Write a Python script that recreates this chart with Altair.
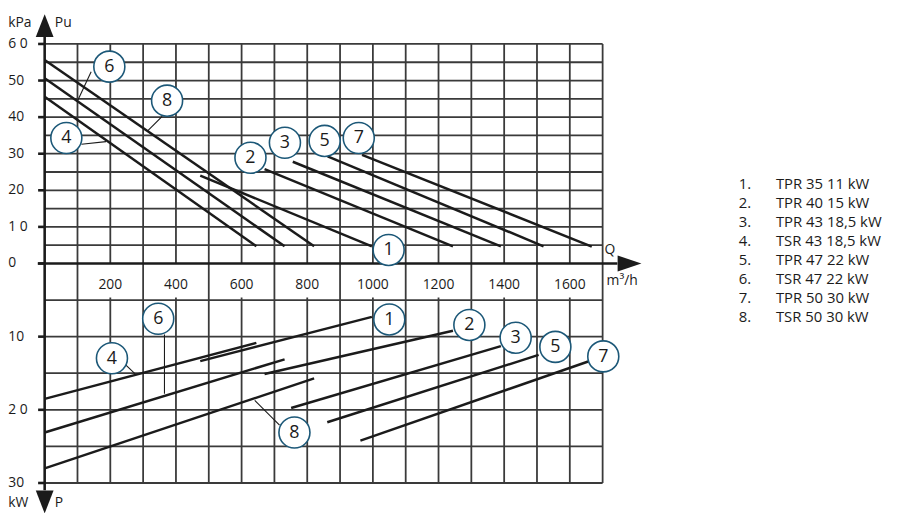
import altair as alt
import pandas as pd

# ---------------- data ----------------
pump_ids = ["1", "2", "3", "4", "5", "6", "7", "8"]
pump_names = ["TPR 35 11 kW", "TPR 40 15 kW", "TPR 43 18,5 kW", "TSR 43 18,5 kW",
              "TPR 47 22 kW", "TSR 47 22 kW", "TPR 50 30 kW", "TSR 50 30 kW"]

# pressure (Pu, kPa) vs flow (Q, m3/h): straight segments
head_q_start = [474, 670, 756, 0, 862, 0, 967, 0]
head_q_end = [997, 1244, 1390, 645, 1520, 731, 1667, 821]
head_kpa_start = [24.0, 25.8, 27.8, 45.6, 29.3, 50.6, 29.7, 55.6]
head_kpa_end = [4.7, 4.7, 4.7, 4.7, 4.7, 4.7, 4.6, 4.7]

# power (P, kW) vs flow
power_q_start = [474, 670, 751, 0, 861, 0, 962, 0]
power_q_end = [997, 1244, 1390, 645, 1505, 731, 1656, 821]
power_kw_start = [13.35, 15.1, 19.75, 18.5, 21.7, 23.1, 24.2, 28.0]
power_kw_end = [7.3, 9.2, 11.3, 10.85, 12.5, 13.1, 13.4, 15.7]

# numbered circles
head_tag_q = [1048, 627, 732, 66, 853, 197, 957, 373]
head_tag_kpa = [3.7, 28.9, 33.0, 34.3, 33.5, 53.8, 34.3, 44.5]
power_tag_q = [1050, 1294, 1435, 205, 1556, 346, 1702, 761]
power_tag_kw = [7.65, 8.4, 10.15, 12.95, 11.4, 7.55, 12.7, 23.1]

# leader lines from circles to curves
head_leader_q = [141.6, 358, 112]
head_leader_q2 = [101.4, 313, 187]
head_leader_kpa = [52.4, 40.2, 32.6]
head_leader_kpa2 = [44.7, 36.2, 33.3]
power_leader_q = [247.6, 365, 640]
power_leader_q2 = [275.7, 365, 715.6]
power_leader_kw = [13.9, 9.7, 18.7]
power_leader_kw2 = [15.1, 17.8, 22.1]

# axes
q_tick_values = [200, 400, 600, 800, 1000, 1200, 1400, 1600]
q_tick_labels = ["200", "400", "600", "800", "1000", "1200", "1400", "1600"]
kpa_tick_values = [60, 50, 40, 30, 20, 10, 0]
kpa_tick_labels = ["6 0", "50", "40", "30", "20", "1 0", "0"]
kw_tick_values = [10, 20, 30]
kw_tick_labels = ["10", "2 0", "30"]
q_grid = list(range(0, 1800, 100))
kpa_grid = list(range(5, 65, 5))
kw_grid = list(range(5, 35, 5))

# ---------------- layout helpers ----------------
KW = -2.0          # power axis runs downward: 30 kW <-> -60 on the shared axis
FONT = "Open Sans"
INK = "#1b1b1b"
GRID = "#3a3a3a"
BLUE = "#1c5878"

xs = alt.Scale(domain=[0, 1700], nice=False, zero=False)
ys = alt.Scale(domain=[-60, 60], nice=False, zero=False)


def X(f):
    return alt.X(f, type="quantitative", scale=xs, axis=None, title=None)


def Y(f):
    return alt.Y(f, type="quantitative", scale=ys, axis=None, title=None)


def rules(df, color, width):
    return alt.Chart(df).mark_rule(color=color, strokeWidth=width, clip=False).encode(
        x=X("q"), x2=alt.X2("q2"), y=Y("u"), y2=alt.Y2("u2"))


# grid
h_rows = [dict(q=0, q2=1700, u=v, u2=v) for v in kpa_grid]
h_rows += [dict(q=0, q2=1700, u=KW * v, u2=KW * v) for v in kw_grid]
v_rows = []
for q in q_grid[1:]:
    v_rows.append(dict(q=q, q2=q, u=0, u2=60))
    v_rows.append(dict(q=q, q2=q, u=-60, u2=(-9.3 if q in q_tick_values else 0)))
grid = rules(pd.DataFrame(h_rows + v_rows), GRID, 1.8)

# axes lines + ticks
axis_rows = [dict(q=0, q2=0, u=-62, u2=62), dict(q=-21, q2=1745, u=0, u2=0)]
axis_rows += [dict(q=-20, q2=0, u=v, u2=v) for v in kpa_tick_values]
axis_rows += [dict(q=-20, q2=0, u=KW * v, u2=KW * v) for v in kw_tick_values]
axes = rules(pd.DataFrame(axis_rows), INK, 2.6)

# curves
curve_rows = []
for i, p in enumerate(pump_ids):
    curve_rows.append(dict(q=head_q_start[i], q2=head_q_end[i], u=head_kpa_start[i], u2=head_kpa_end[i]))
    curve_rows.append(dict(q=power_q_start[i], q2=power_q_end[i],
                           u=KW * power_kw_start[i], u2=KW * power_kw_end[i]))
curves = rules(pd.DataFrame(curve_rows), INK, 2.5)

# leaders
lead_rows = [dict(q=a, q2=b, u=c, u2=d) for a, b, c, d in
             zip(head_leader_q, head_leader_q2, head_leader_kpa, head_leader_kpa2)]
lead_rows += [dict(q=a, q2=b, u=KW * c, u2=KW * d) for a, b, c, d in
              zip(power_leader_q, power_leader_q2, power_leader_kw, power_leader_kw2)]
leaders = rules(pd.DataFrame(lead_rows), INK, 1.1)

# circles with numbers
tag_df = pd.DataFrame(
    [dict(q=head_tag_q[i], u=head_tag_kpa[i], t=p) for i, p in enumerate(pump_ids)] +
    [dict(q=power_tag_q[i], u=KW * power_tag_kw[i], t=p) for i, p in enumerate(pump_ids)])
circles = alt.Chart(tag_df).mark_point(
    shape="circle", size=980, filled=False, fill="white", fillOpacity=1,
    stroke=BLUE, strokeWidth=1.6, opacity=1, clip=False).encode(x=X("q"), y=Y("u"))
tag_text = alt.Chart(tag_df).mark_text(
    font=FONT, fontSize=18, color=INK, align="center", baseline="middle", dy=0.5, clip=False
).encode(x=X("q"), y=Y("u"), text="t:N")

# tick labels
lab_rows = [dict(q=-111, u=v, t=s) for v, s in zip(kpa_tick_values, kpa_tick_labels)]
lab_rows += [dict(q=-111, u=KW * v, t=s) for v, s in zip(kw_tick_values, kw_tick_labels)]
left_labels = alt.Chart(pd.DataFrame(lab_rows)).mark_text(
    font=FONT, fontSize=14, color=INK, align="left", baseline="middle", clip=False
).encode(x=X("q"), y=Y("u"), text="t:N")
xl_df = pd.DataFrame(dict(q=q_tick_values, u=[-6.0] * len(q_tick_values), t=q_tick_labels))
x_labels = alt.Chart(xl_df).mark_text(
    font=FONT, fontSize=14, color=INK, align="center", baseline="middle", clip=False
).encode(x=X("q"), y=Y("u"), text="t:N")

# unit / symbol labels
unit_df = pd.DataFrame(dict(
    q=[-111, 31, 1706, 1712, -111, 31],
    u=[65.7, 65.7, 3.7, -4.9, -65.6, -65.6],
    t=["kPa", "Pu", "Q", "m³/h", "kW", "P"]))
units = alt.Chart(unit_df).mark_text(
    font=FONT, fontSize=14, color=INK, align="left", baseline="middle", clip=False
).encode(x=X("q"), y=Y("u"), text="t:N")

# arrow heads
up = alt.Chart(pd.DataFrame(dict(q=[0], u=[65.0]))).mark_point(
    shape="M-0.78,1L0,-1L0.78,1Z", size=529, filled=True, color=INK, opacity=1, clip=False
).encode(x=X("q"), y=Y("u"))
down = alt.Chart(pd.DataFrame(dict(q=[0], u=[-65.2]))).mark_point(
    shape="M-0.78,-1L0,1L0.78,-1Z", size=529, filled=True, color=INK, opacity=1, clip=False
).encode(x=X("q"), y=Y("u"))
right = alt.Chart(pd.DataFrame(dict(q=[1782], u=[0]))).mark_point(
    shape="M-1,-0.67L1,0L-1,0.67Z", size=576, filled=True, color=INK, opacity=1, clip=False
).encode(x=X("q"), y=Y("u"))

# legend list at right
leg_df = pd.DataFrame(dict(
    n=[f"{p}." for p in pump_ids],
    name=pump_names,
    u=[21.7 - 5.2 * i for i in range(len(pump_ids))],
    qn=[2114.5] * len(pump_ids),
    qt=[2228] * len(pump_ids)))
leg_num = alt.Chart(leg_df).mark_text(
    font=FONT, fontSize=15, color=INK, align="left", baseline="middle", clip=False
).encode(x=X("qn"), y=Y("u"), text="n:N")
leg_name = alt.Chart(leg_df).mark_text(
    font=FONT, fontSize=15, color=INK, align="left", baseline="middle", clip=False
).encode(x=X("qt"), y=Y("u"), text="name:N")

chart = alt.layer(
    grid, axes, curves, leaders, circles, tag_text, left_labels, x_labels, units,
    up, down, right, leg_num, leg_name
).properties(
    width=563, height=443,
    autosize=alt.AutoSizeParams(type="none"),
    padding={"left": 37, "top": 34, "right": 293, "bottom": 28},
    background="white"
).configure_view(stroke=None)

chart.save("out.html", embed_options={"renderer": "svg", "actions": False})
